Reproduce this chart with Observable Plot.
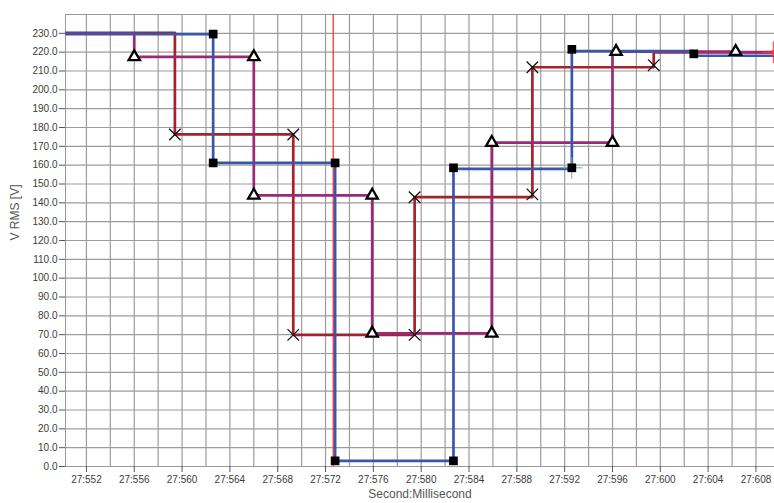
<!DOCTYPE html>
<html>
<head>
<meta charset="utf-8">
<script src="https://cdn.jsdelivr.net/npm/d3@7"></script>
<script src="https://cdn.jsdelivr.net/npm/@observablehq/plot@0.6"></script>
<style>
  html, body { margin: 0; padding: 0; background: #fff; }
</style>
</head>
<body>
<div id="chart"></div>
<script>
// ---- tick labels / grid ----
const xTicks = [552, 556, 560, 564, 568, 572, 576, 580, 584, 588, 592, 596, 600, 604, 608];
const xGrid = [552, 554, 556, 558, 560, 562, 564, 566, 568, 570, 572, 574, 576, 578, 580, 582, 584, 586, 588, 590, 592, 594, 596, 598, 600, 602, 604, 606, 608];
const yTicks = [0, 10, 20, 30, 40, 50, 60, 70, 80, 90, 100, 110, 120, 130, 140, 150, 160, 170, 180, 190, 200, 210, 220, 230];
const yGrid = [0, 10, 20, 30, 40, 50, 60, 70, 80, 90, 100, 110, 120, 130, 140, 150, 160, 170, 180, 190, 200, 210, 220, 230, 240];

// ---- series: step boundaries (ms) and half-cycle RMS levels (V) ----
const redTimes   = [549, 559.4, 569.3, 579.45, 589.3, 599.45, 609.45];
const redValues  = [230.2, 176.3, 69.9, 143.0, 212.0, 219.9];
const purpleTimes  = [549, 556.0, 566.0, 575.9, 585.9, 596.0, 606.3, 616];
const purpleValues = [230.0, 217.5, 144.0, 70.7, 172.0, 220.3, 220.0];
const blueTimes  = [549, 562.6, 572.8, 582.7, 592.6, 602.8, 612.8];
const blueValues = [229.6, 161.2, 3.0, 158.0, 220.6, 218.1];

// ---- marker points ----
const redMarkT = [559.4, 569.3, 569.3, 579.45, 579.45, 589.3, 589.3, 599.45];
const redMarkV = [176.3, 176.3, 69.9, 69.9, 143.0, 144.5, 212.0, 213.1];
const purpleMarkT = [556.0, 566.0, 566.0, 575.9, 575.9, 585.9, 585.9, 596.0, 596.3, 606.3];
const purpleMarkV = [217.5, 217.5, 144.0, 144.0, 70.7, 70.7, 172.0, 172.0, 220.3, 220.3];
const blueMarkT = [562.6, 562.6, 572.8, 572.8, 582.7, 582.7, 592.6, 592.6, 602.8];
const blueMarkV = [229.6, 161.2, 161.2, 3.0, 3.0, 158.6, 158.6, 221.5, 219.1];

// cursors
const cursorTime = [572.64];
const blueCursor = {t: 592.6, v: 158.6};
const redCursor = {t: 609.45, v: 219.9};

const xLabel = "Second:Millisecond";
const yLabel = "V RMS [V]";

const RED = "#a3232a", PURPLE = "#9a2a78", BLUE = "#3a56aa";

function stepData(times, values) {
  const out = values.map((v, i) => ({t: times[i], v}));
  out.push({t: times[values.length], v: values[values.length - 1]});
  return out;
}
function pts(ts, vs) { return ts.map((t, i) => ({t, v: vs[i]})); }

const chart = Plot.plot({
  width: 774,
  height: 503,
  marginLeft: 65,
  marginRight: 0,
  marginTop: 14,
  marginBottom: 37,
  style: {fontFamily: "'Liberation Sans', Arial, sans-serif", fontSize: "10px", color: "#3c3c3c", background: "#fff"},
  x: {domain: [550.25, 609.55]},
  y: {domain: [0, 240]},
  marks: [
    Plot.gridX(xGrid, {stroke: "#9c9c9c", strokeOpacity: 1, strokeWidth: 1.2}),
    Plot.gridY(yGrid, {stroke: "#9c9c9c", strokeOpacity: 1, strokeWidth: 1.2}),
    Plot.frame({stroke: "#999"}),
    Plot.axisX(xTicks, {tickFormat: d => "27:" + d, tickSize: 6, tickPadding: 3, label: null, stroke: "#555"}),
    Plot.axisY(yTicks, {tickFormat: d3.format(".1f"), tickSize: 6, tickPadding: 2, label: null, stroke: "#555"}),
    Plot.text([xLabel], {frameAnchor: "bottom", dy: 31, fontSize: 12, fill: "#555"}),
    Plot.text([yLabel], {frameAnchor: "left", dx: -50, rotate: -90, fontSize: 12, fill: "#555"}),
    Plot.ruleX(cursorTime, {stroke: "#ff2020", strokeWidth: 1.2}),
    Plot.line(stepData(redTimes, redValues), {x: "t", y: "v", curve: "step-after", stroke: RED, strokeWidth: 2.7, clip: true}),
    Plot.line(stepData(purpleTimes, purpleValues), {x: "t", y: "v", curve: "step-after", stroke: PURPLE, strokeWidth: 2.7, clip: true}),
    Plot.line(stepData(blueTimes, blueValues), {x: "t", y: "v", curve: "step-after", stroke: BLUE, strokeWidth: 2.7, clip: true}),
    Plot.dot([blueCursor], {x: "t", y: "v", symbol: "plus", r: 7, stroke: "#7aa8a8", strokeWidth: 1}),
    Plot.dot([redCursor], {x: "t", y: "v", symbol: "plus", r: 7, stroke: "#ff3030", strokeWidth: 1}),
    Plot.dot([redCursor], {x: "t", y: "v", symbol: "square", r: 2.2, fill: "#ff3030", stroke: "none"}),
    Plot.dot(pts(redMarkT, redMarkV), {x: "t", y: "v", symbol: "times", r: 5.3, stroke: "#111", strokeWidth: 1.3}),
    Plot.dot(pts(purpleMarkT, purpleMarkV), {x: "t", y: "v", symbol: "triangle", r: 4.2, fill: "#fff", stroke: "#000", strokeWidth: 2.3}),
    Plot.dot(pts(blueMarkT, blueMarkV), {x: "t", y: "v", symbol: "square", r: 4.9, fill: "#000", stroke: "none"})
  ]
});
document.getElementById("chart").appendChild(chart);
</script>
</body>
</html>
